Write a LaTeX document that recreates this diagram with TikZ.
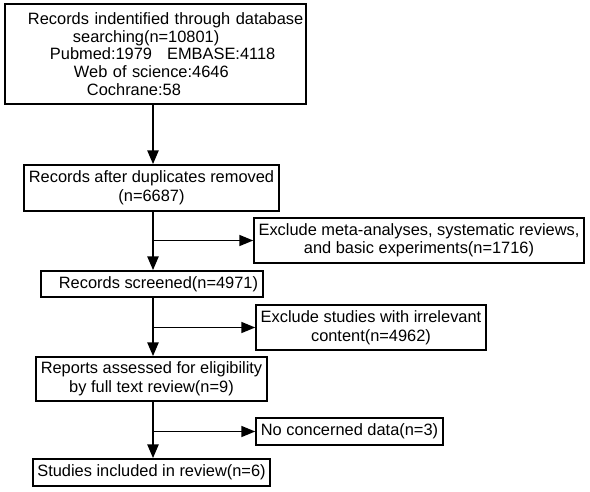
\documentclass[tikz,border=0pt]{standalone}
\usepackage{fontspec}
\setmainfont{Liberation Sans}
\usetikzlibrary{arrows.meta}
\tikzset{
  box/.style={draw, line width=1.5pt, inner sep=0pt, align=center,
    font=\fontsize{16.4}{18.5}\selectfont},
  vline/.style={line width=2.6pt, -{Triangle[length=14pt,width=11pt]}},
  hline/.style={line width=1.7pt, -{Triangle[length=14pt,width=11pt]}},
}
\begin{document}
\begin{tikzpicture}[x=1pt,y=-1pt]
\useasboundingbox[fill=white] (0,0) rectangle (590,491);
\coordinate (sp) at (153,0);
\node[box, minimum width=301pt, minimum height=100pt, text width=301pt, align=left,
  font=\fontsize{16.4}{17.6}\selectfont] (b1) at (155.5,54)
  {\hspace*{23pt}Records indentified through database\\
   \hspace*{68pt}searching(n=10801)\\
   \hspace*{45pt}Pubmed:1979\hspace{15pt}EMBASE:4118\\
   \hspace*{69pt}Web of science:4646\\
   \hspace*{82pt}Cochrane:58};
\node[box, minimum width=255pt, minimum height=46pt] (b2) at (151.5,188)
  {Records after duplicates removed\\(n=6687)};
\node[box, minimum width=222pt, minimum height=26pt] (b3) at (152,284)
  {\hspace*{13pt}Records screened(n=4971)};
\node[box, minimum width=330pt, minimum height=45pt] (b4) at (419,240.5)
  {Exclude meta-analyses, systematic reviews,\\and basic experiments(n=1716)};
\node[box, minimum width=230pt, minimum height=45pt] (b5) at (371,327.5)
  {Exclude studies with irrelevant\\content(n=4962)};
\node[box, minimum width=231pt, minimum height=44pt] (b6) at (151.5,379)
  {Reports assessed for eligibility\\by full text review(n=9)};
\node[box, minimum width=187pt, minimum height=27pt] (b7) at (349.5,431.5)
  {No concerned data(n=3)};
\node[box, minimum width=237pt, minimum height=27pt] (b8) at (151.5,472.5)
  {Studies included in review(n=6)};
\draw[vline] (b1.south -| sp) -- (b2.north -| sp);
\draw[vline] (b2.south -| sp) -- (b3.north -| sp);
\draw[vline] (b3.south -| sp) -- (b6.north -| sp);
\draw[vline] (b6.south -| sp) -- (b8.north -| sp);
\draw[hline] (b4.west -| sp) -- (b4.west);
\draw[hline] (b5.west -| sp) -- (b5.west);
\draw[hline] (b7.west -| sp) -- (b7.west);
\end{tikzpicture}
\end{document}
